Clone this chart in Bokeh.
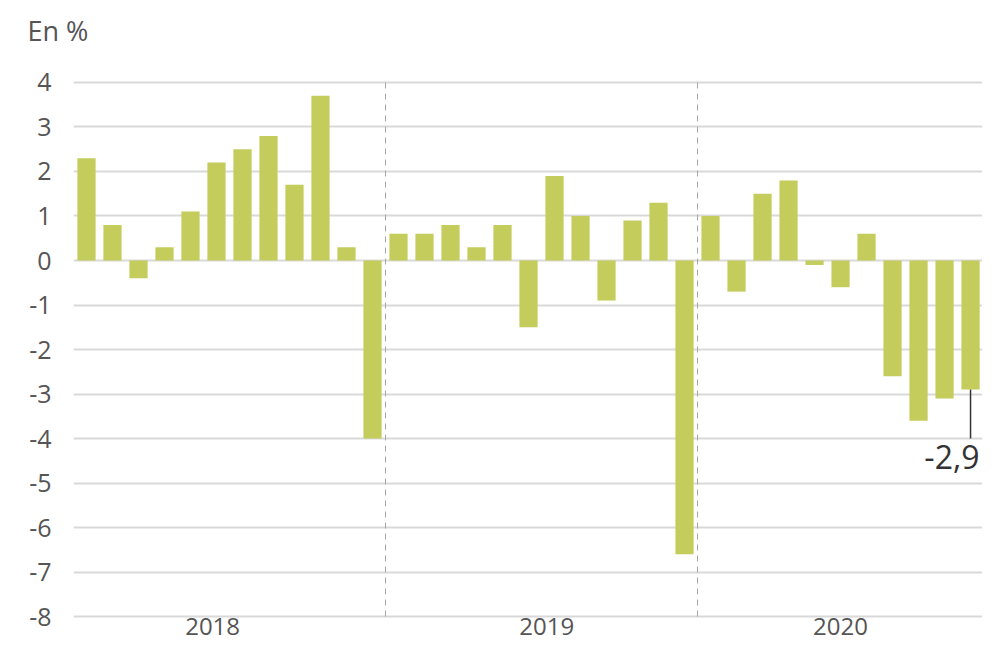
from bokeh.plotting import figure
from bokeh.models import Range1d, FixedTicker, ColumnDataSource
from bokeh.core.properties import value
from bokeh.embed import file_html
from bokeh.resources import INLINE

# ---- data ----
years = ["2018", "2019", "2020"]
values_2018 = [2.3, 0.8, -0.4, 0.3, 1.1, 2.2, 2.5, 2.8, 1.7, 3.7, 0.3, -4.0]
values_2019 = [0.6, 0.6, 0.8, 0.3, 0.8, -1.5, 1.9, 1.0, -0.9, 0.9, 1.3, -6.6]
values_2020 = [1.0, -0.7, 1.5, 1.8, -0.1, -0.6, 0.6, -2.6, -3.6, -3.1, -2.9]
y_ticks = [-8, -7, -6, -5, -4, -3, -2, -1, 0, 1, 2, 3, 4]
year_label_pos = [5.35, 18.2, 29.5]   # month-index position of the year labels
last_label = "-2,9"
subtitle = "En %"

FONT = "Open Sans"
BAR = "#c4cc5c"
GREY_TXT = "#555555"

series = values_2018 + values_2019 + values_2020
xs = [i + 0.5 for i in range(len(series))]
src = ColumnDataSource(dict(x=xs, top=series))

p = figure(width=982, height=644, output_backend="svg", toolbar_location=None,
           x_range=Range1d(0, 34.96), y_range=Range1d(-8.629, 4.719),
           min_border_left=73, min_border_right=0, min_border_top=50, min_border_bottom=0)
p.outline_line_color = None
p.background_fill_color = "white"
p.border_fill_color = "white"

# subtitle as title
p.title.text = subtitle
p.title.align = "left"
p.title.vertical_align = "bottom"
p.title.offset = -46
p.title.text_font = FONT
p.title.text_font_size = "27px"
p.title.text_font_style = "normal"
p.title.text_color = GREY_TXT
p.title.standoff = 3

# axes
p.xaxis.visible = False
p.yaxis.ticker = FixedTicker(ticks=y_ticks)
p.yaxis.major_label_overrides = {t: str(t) for t in y_ticks}
p.yaxis.axis_line_color = None
p.yaxis.major_tick_line_color = None
p.yaxis.minor_tick_line_color = None
p.yaxis.major_label_standoff = 16
p.yaxis.major_label_text_font = FONT
p.yaxis.major_label_text_font_size = "25px"
p.yaxis.major_label_text_color = GREY_TXT

# grid
p.xgrid.visible = False
p.ygrid.ticker = FixedTicker(ticks=y_ticks)
p.ygrid.grid_line_color = "#d9d9d9"
p.ygrid.grid_line_width = 2

# year separators (dashed)
n18, n19 = len(values_2018), len(values_2019)
seps = [n18, n18 + n19]
p.segment(x0=seps, x1=seps, y0=[min(y_ticks)] * 2, y1=[max(y_ticks)] * 2,
          line_color="#a6a6a6", line_width=1, line_dash="6 5")

# bars
p.vbar(x="x", top="top", bottom=0, width=0.7, source=src, fill_color=BAR, line_color=None)

# year labels
p.text(x=year_label_pos, y=[-8.225] * 3, text=years, text_font=value(FONT),
       text_font_size="24px", text_color=GREY_TXT, text_align="center",
       text_baseline="middle")

# callout for last value
lx = xs[-1]
p.segment(x0=[lx], x1=[lx], y0=[series[-1]], y1=[-4.0], line_color="#333333", line_width=1.5)
p.text(x=[lx], y=[-4.0], text=[last_label], text_font=value(FONT), text_font_size="32px",
       text_color="#333333", text_align="right", text_baseline="top", x_offset=9, y_offset=6)

open("out.html", "w").write(file_html(p, INLINE))
